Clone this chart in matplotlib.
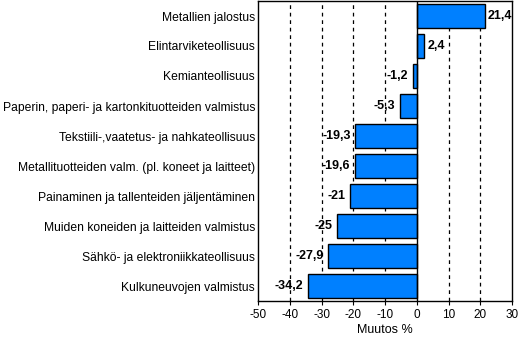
import matplotlib
matplotlib.use("Agg")
import matplotlib.pyplot as plt

plt.rcParams['font.family'] = ['Liberation Sans', 'DejaVu Sans']

# data, top to bottom as in the picture
categories = [
    "Metallien jalostus",
    "Elintarviketeollisuus",
    "Kemianteollisuus",
    "Paperin, paperi- ja kartonkituotteiden valmistus",
    "Tekstiili-,vaatetus- ja nahkateollisuus",
    "Metallituotteiden valm. (pl. koneet ja laitteet)",
    "Painaminen ja tallenteiden jäljentäminen",
    "Muiden koneiden ja laitteiden valmistus",
    "Sähkö- ja elektroniikkateollisuus",
    "Kulkuneuvojen valmistus",
]
values = [21.4, 2.4, -1.2, -5.3, -19.3, -19.6, -21, -25, -27.9, -34.2]
value_labels = ["21,4", "2,4", "-1,2", "-5,3", "-19,3", "-19,6", "-21", "-25", "-27,9", "-34,2"]
xticks = [-50, -40, -30, -20, -10, 0, 10, 20, 30]

fig = plt.figure(figsize=(5.19, 3.37), dpi=100)
ax = fig.add_axes([258/519, 1 - 301/337, 254/519, 300/337])

ypos = list(range(len(categories)))[::-1]

# dashed grid lines
for g in [-40, -30, -20, -10, 10, 20]:
    ax.axvline(g, color='black', linestyle=(0, (3, 3)), linewidth=0.9, zorder=1)

ax.barh(ypos, values, height=0.8, color='#0080FF', edgecolor='black', linewidth=1.0, zorder=3)
ax.axvline(0, color='black', linewidth=1.0, zorder=4)

for y, v, lab in zip(ypos, values, value_labels):
    if v >= 0:
        ax.text(v + 0.9, y, lab, ha='left', va='center', fontsize=9,
                fontweight='bold', zorder=5)
    else:
        ax.text(v - 1.5, y, lab, ha='right', va='center', fontsize=9,
                fontweight='bold', zorder=5)

ax.set_xlim(-50, 30)
ax.set_ylim(-0.5, 9.5)
ax.set_xticks(xticks)
ax.set_xticklabels([str(t) for t in xticks], fontsize=8.5)
ax.set_yticks(ypos)
ax.set_yticklabels(categories, fontsize=8.7)
ax.tick_params(axis='y', length=0, pad=2)
ax.tick_params(axis='x', length=3, pad=3)
ax.set_xlabel("Muutos %", fontsize=9, labelpad=2)
for s in ax.spines.values():
    s.set_linewidth(1.0)

fig.savefig("out.png", dpi=100)
